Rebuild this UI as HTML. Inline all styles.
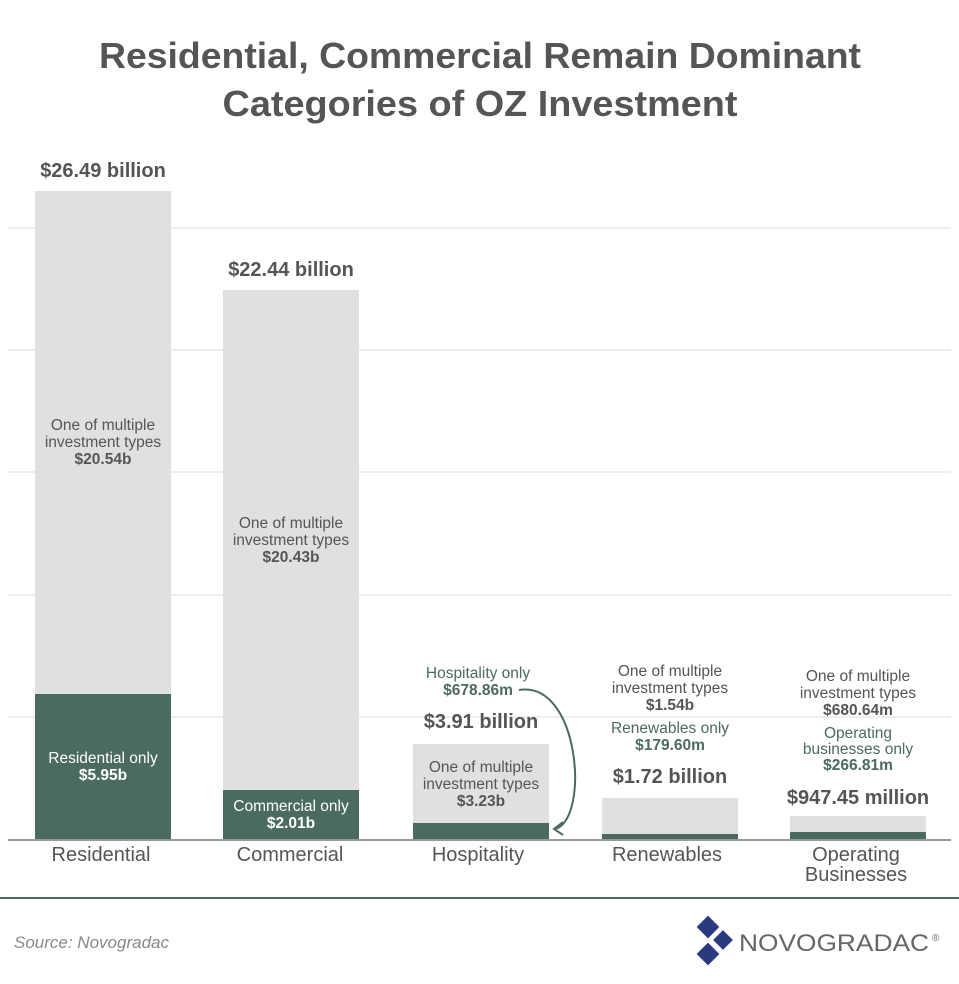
<!DOCTYPE html>
<html><head><meta charset="utf-8"><style>
body{margin:0;background:#fff;}
svg{display:block;font-family:"Liberation Sans",sans-serif;}
</style></head><body>
<svg width="959" height="984" viewBox="0 0 959 984">
<text x="480" y="68" text-anchor="middle" font-size="36" font-weight="bold" fill="#555" textLength="762" lengthAdjust="spacingAndGlyphs">Residential, Commercial Remain Dominant</text>
<text x="480" y="116" text-anchor="middle" font-size="36" font-weight="bold" fill="#555" textLength="515" lengthAdjust="spacingAndGlyphs">Categories of OZ Investment</text>
<g stroke="#ddd" stroke-width="1">
<line x1="8" y1="228" x2="951" y2="228"/><line x1="8" y1="350" x2="951" y2="350"/>
<line x1="8" y1="472" x2="951" y2="472"/><line x1="8" y1="595" x2="951" y2="595"/>
<line x1="8" y1="717" x2="951" y2="717"/></g>
<g fill="#e0e0e0">
<rect x="35" y="191" width="136" height="649"/><rect x="223" y="290" width="136" height="550"/>
<rect x="413" y="744" width="136" height="96"/><rect x="602" y="798" width="136" height="42"/>
<rect x="790" y="816" width="136" height="24"/></g>
<g fill="#4a6b5d">
<rect x="35" y="694" width="136" height="146"/><rect x="223" y="790" width="136" height="50"/>
<rect x="413" y="823" width="136" height="17"/><rect x="602" y="834" width="136" height="6"/>
<rect x="790" y="832" width="136" height="8"/></g>
<line x1="8" y1="840" x2="951" y2="840" stroke="#999" stroke-width="2"/>
<line x1="0" y1="898" x2="959" y2="898" stroke="#4a6b5d" stroke-width="2"/>
<g font-size="20" font-weight="bold" fill="#555" text-anchor="middle">
<text x="103" y="177">$26.49 billion</text><text x="291" y="276">$22.44 billion</text>
<text x="481" y="728">$3.91 billion</text><text x="670" y="783">$1.72 billion</text>
<text x="858" y="804">$947.45 million</text></g>
<g font-size="20" fill="#555" text-anchor="middle">
<text x="101" y="861">Residential</text><text x="290" y="861">Commercial</text>
<text x="478" y="861">Hospitality</text><text x="667" y="861">Renewables</text>
<text x="856" y="861">Operating</text><text x="856" y="881">Businesses</text></g>
<g font-size="15.5" fill="#555" text-anchor="middle">
<text x="103" y="430">One of multiple</text><text x="103" y="447">investment types</text>
<text x="103" y="464" font-weight="bold">$20.54b</text>
<text x="291" y="528">One of multiple</text><text x="291" y="545">investment types</text>
<text x="291" y="562" font-weight="bold">$20.43b</text>
<text x="481" y="772">One of multiple</text><text x="481" y="789">investment types</text>
<text x="481" y="806" font-weight="bold">$3.23b</text>
<text x="670" y="676">One of multiple</text><text x="670" y="693">investment types</text>
<text x="670" y="710" font-weight="bold">$1.54b</text>
<text x="858" y="681">One of multiple</text><text x="858" y="698">investment types</text>
<text x="858" y="715" font-weight="bold">$680.64m</text></g>
<g font-size="15.5" fill="#fff" text-anchor="middle">
<text x="103" y="763">Residential only</text><text x="103" y="780" font-weight="bold">$5.95b</text>
<text x="291" y="811">Commercial only</text><text x="291" y="828" font-weight="bold">$2.01b</text></g>
<g font-size="15.5" fill="#4a6b5d" text-anchor="middle">
<text x="478" y="678">Hospitality only</text><text x="478" y="695" font-weight="bold">$678.86m</text>
<text x="670" y="733">Renewables only</text><text x="670" y="750" font-weight="bold">$179.60m</text>
<text x="858" y="738">Operating</text><text x="858" y="754">businesses only</text>
<text x="858" y="770" font-weight="bold">$266.81m</text></g>
<path d="M519 690 C580 680 590 820 555 829" fill="none" stroke="#4a6b5d" stroke-width="2"/>
<path d="M563 822 L554 829 L563 835" fill="none" stroke="#4a6b5d" stroke-width="2"/>
<text x="14" y="948" font-size="17" font-style="italic" fill="#888">Source: Novogradac</text>
<g fill="#2b3a7e">
<rect x="700" y="919" width="16" height="16" transform="rotate(45 708 927)"/>
<rect x="716" y="933" width="14" height="14" transform="rotate(45 723 940)"/>
<rect x="700" y="946" width="16" height="16" transform="rotate(45 708 954)"/></g>
<text x="739" y="951" font-size="24" fill="#666" textLength="190" lengthAdjust="spacingAndGlyphs">NOVOGRADAC</text>
<text x="932" y="941" font-size="10" fill="#666">®</text>
</svg>
</body></html>
